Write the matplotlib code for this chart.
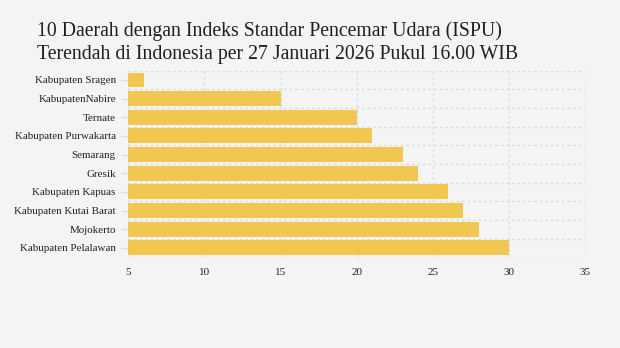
import numpy as np
import matplotlib.pyplot as plt

# ISPU per daerah, dari yang terendah
daerah = ["Kabupaten Sragen", "KabupatenNabire", "Ternate", "Kabupaten Purwakarta",
          "Semarang", "Gresik", "Kabupaten Kapuas", "Kabupaten Kutai Barat",
          "Mojokerto", "Kabupaten Pelalawan"]
ispu = [6, 15, 20, 21, 23, 24, 26, 27, 28, 30]
xticks = [5, 10, 15, 20, 25, 30, 35]

bg = "#f4f4f4"
fig = plt.figure(figsize=(6.2, 3.48), dpi=100, facecolor=bg)
ax = fig.add_axes([0.207, 0.261, 0.737, 0.536], facecolor=bg)

y = np.arange(len(daerah))
ax.barh(y, [v - 5 for v in ispu], left=5, height=0.8, color="#f0c750", zorder=2)

ax.set_xlim(5, 35)
ax.set_ylim(len(daerah) - 0.5, -0.5)
ax.set_xticks(xticks)
ax.set_xticklabels([str(t) for t in xticks], family="Liberation Serif", fontsize=8, color="#222222")
ax.set_yticks(y)
ax.set_yticklabels(daerah, family="Liberation Serif", fontsize=7.9, color="#222222")
ax.set_yticks(np.arange(len(daerah) + 1) - 0.5, minor=True)
ax.tick_params(axis="y", which="major", length=5, color="#dddddd", width=1, pad=4)
ax.tick_params(axis="y", which="minor", length=0)
ax.tick_params(axis="x", length=0, pad=8)

ax.grid(axis="x", which="major", color="#dcdcdc", linestyle=(0, (2, 2)), linewidth=1, zorder=1)
ax.grid(axis="y", which="minor", color="#dcdcdc", linestyle=(0, (2, 2)), linewidth=1, zorder=1)
for s in ax.spines.values():
    s.set_visible(False)

fig.text(0.06, 0.91, "10 Daerah dengan Indeks Standar Pencemar Udara (ISPU)",
         family="Liberation Serif", fontsize=14.2, color="#1f1f1f", va="center")
fig.text(0.06, 0.842, "Terendah di Indonesia per 27 Januari 2026 Pukul 16.00 WIB",
         family="Liberation Serif", fontsize=14.2, color="#1f1f1f", va="center")

fig.savefig("out.png", dpi=100, facecolor=bg)
